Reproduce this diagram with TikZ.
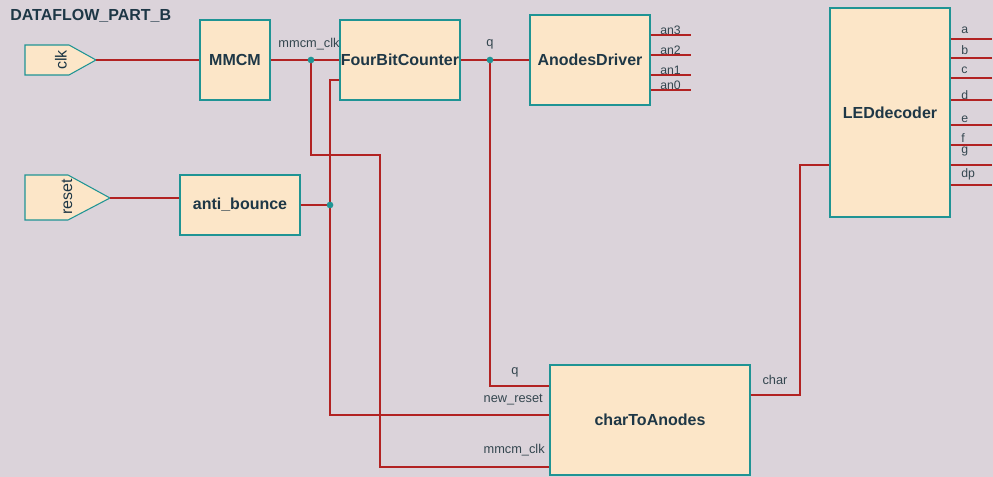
\documentclass[tikz,border=0pt]{standalone}
\usepackage{fontspec}
\setmainfont{Liberation Sans}
\definecolor{bgc}{HTML}{DBD3DA}
\definecolor{boxfill}{HTML}{FCE6C8}
\definecolor{boxline}{HTML}{1F9494}
\definecolor{wirec}{HTML}{B22222}
\definecolor{txtc}{HTML}{1E3746}
\definecolor{lblc}{HTML}{34464F}
\tikzset{
  box/.style={draw=boxline, fill=boxfill, line width=0.9pt, inner sep=0pt,
    font=\fontsize{12}{14}\selectfont\bfseries, text=txtc},
  wire/.style={draw=wirec, line width=0.8pt},
  lbl/.style={font=\fontsize{9.6}{11}\selectfont, text=lblc, inner sep=0pt},
  outlbl/.style={font=\fontsize{9.2}{10}\selectfont, text=lblc, inner sep=0pt},
  port/.style={draw=boxline, fill=boxfill, line width=0.8pt},
  dot/.style={circle, fill=boxline, inner sep=0pt, minimum size=5pt},
}
\begin{document}
\begin{tikzpicture}[x=0.75pt, y=-0.75pt]
\useasboundingbox[fill=bgc] (0,0) rectangle (993,477);
\node[anchor=west, font=\fontsize{12}{14}\selectfont\bfseries, text=txtc, inner sep=0pt] (title) at (10,16) {DATAFLOW\_PART\_B};

% ports
\draw[port] (25,45) -- (69,45) -- (96,60) coordinate (clktip) -- (69,75) -- (25,75) -- cycle;
\node[rotate=90, font=\fontsize{12}{14}\selectfont, text=txtc, inner sep=0pt] (clklbl) at (61,60) {clk};
\draw[port] (25,175) -- (68,175) -- (110,198) coordinate (rsttip) -- (68,220) -- (25,220) -- cycle;
\node[rotate=90, font=\fontsize{12}{14}\selectfont, text=txtc, inner sep=0pt] (rstlbl) at (67,197) {reset};

% boxes
\node[box, minimum width={70*0.75pt}, minimum height={80*0.75pt}] (mmcm) at (235,60) {MMCM};
\node[box, minimum width={120*0.75pt}, minimum height={80*0.75pt}] (fbc) at (400,60) {FourBitCounter};
\node[box, minimum width={120*0.75pt}, minimum height={90*0.75pt}] (ad) at (590,60) {AnodesDriver};
\node[box, minimum width={120*0.75pt}, minimum height={209*0.75pt}] (led) at (890,112.5) {LEDdecoder};
\node[box, minimum width={120*0.75pt}, minimum height={60*0.75pt}] (ab) at (240,205) {anti\_bounce};
\node[box, minimum width={200*0.75pt}, minimum height={110*0.75pt}] (cta) at (650,420) {charToAnodes};

% junction coordinates
\coordinate (j1) at (311,60);
\coordinate (j2) at (330,205);
\coordinate (j3) at (490,60);

% wires
\draw[wire] (clktip) -- (mmcm.west);
\draw[wire] (rsttip) -- (rsttip -| ab.west);
\draw[wire] (mmcm.east) -- (fbc.west);
\draw[wire] (j1) -- (311,155) -| (380,467) -- (cta.west |- 0,467);
\draw[wire] (fbc.west |- 0,80) -- (330,80) -- (330,415) -- (cta.west |- 0,415);
\draw[wire] (ab.east) -- (j2);
\draw[wire] (fbc.east) -- (ad.west);
\draw[wire] (j3) |- (cta.west |- 0,386);
\draw[wire] (cta.east |- 0,395) -- (800,395) |- (led.west |- 0,165);

\node[dot] (d1) at (j1) {};
\node[dot] (d2) at (j2) {};
\node[dot] (d3) at (j3) {};

% wire labels
\node[lbl] (l1) at (309,44) {mmcm\_clk};
\node[lbl] (l2) at (490,44) {q};
\node[lbl] (l3) at (515,372) {q};
\node[lbl, anchor=east] (l4) at (543,400) {new\_reset};
\node[lbl, anchor=east] (l5) at (545,450) {mmcm\_clk};
\node[lbl] (l6) at (775,380) {char};

% AnodesDriver outputs
\foreach \y/\t/\ly in {35/an3/30, 55/an2/50, 75/an1/70, 90/an0/85} {
  \draw[wire] (ad.east |- 0,\y) -- ++(40,0) coordinate (o\t);
  \node[outlbl, anchor=west] (n\t) at (660,\ly) {\t};
}

% LEDdecoder outputs
\foreach \y/\t/\ly in {39/a/30, 58/b/50, 78/c/70, 100/d/95, 125/e/119, 145/f/138, 165/g/151, 185/dp/174} {
  \draw[wire] (led.east |- 0,\y) -- ++(41,0) coordinate (p\t);
  \node[outlbl, anchor=west] (q\t) at (961,\ly) {\t};
}
\end{tikzpicture}
\end{document}
